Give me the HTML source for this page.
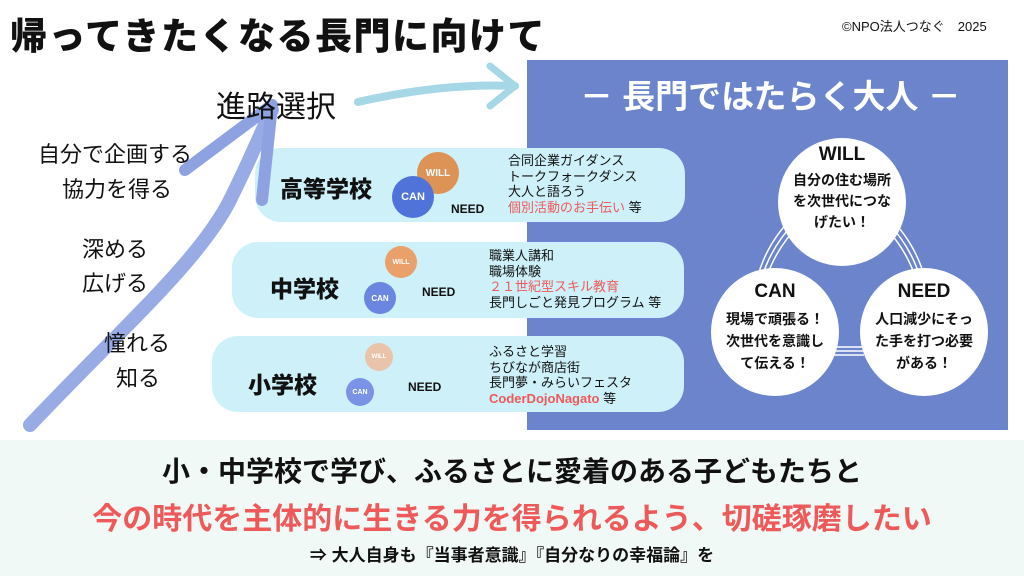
<!DOCTYPE html>
<html><head><meta charset="utf-8"><style>
*{margin:0;padding:0;box-sizing:border-box}
body{width:1024px;height:576px;overflow:hidden;background:#fff;position:relative;font-family:"Liberation Sans","Noto Sans CJK JP",sans-serif;color:#111}
.a{position:absolute;white-space:nowrap}
.box{position:absolute;background:#cdf0f9;border-radius:26px}
.c{position:absolute;border-radius:50%;color:#fff;font-weight:bold;display:flex;align-items:center;justify-content:center}
.red{color:#ee5a5a}
.big{position:absolute;width:128px;height:128px;border-radius:50%;background:#fff;text-align:center;font-weight:bold;color:#111}
</style></head><body>
<div class="a" style="left:10px;top:6px;font-size:37px;font-weight:900;letter-spacing:1.5px">帰ってきたくなる長門に向けて</div>
<div class="a" style="left:842px;top:16px;font-size:13px">©NPO法人つなぐ　2025</div>

<div style="position:absolute;left:527px;top:60px;width:481px;height:370px;background:#6b84cc"></div>
<div class="a" style="left:580px;top:70px;font-size:33px;font-weight:bold;color:#fff">－ 長門ではたらく大人 －</div>

<svg style="position:absolute;left:0;top:0" width="1024" height="576">
<g fill="none" stroke="#fff" stroke-width="1.5">
<path d="M792 218 Q768 242 758 275"/><path d="M796 221 Q772 245 762 277"/><path d="M800 224 Q776 248 766 279"/>
<path d="M890 218 Q914 242 924 275"/><path d="M886 221 Q910 245 920 277"/><path d="M882 224 Q906 248 916 279"/>
<path d="M834 347 L864 347"/><path d="M834 351 L864 351"/><path d="M834 355 L864 355"/>
</g>
</svg>
<div class="box" style="left:255px;top:148px;width:430px;height:74px"></div>
<div class="box" style="left:232px;top:242px;width:452px;height:76px"></div>
<div class="box" style="left:212px;top:336px;width:472px;height:76px"></div>

<svg style="position:absolute;left:0;top:0" width="1024" height="576">
<path d="M30 425 C120 330 200 260 230 200 C250 160 262 130 272 110" stroke="#8ea2e2" stroke-width="14" fill="none" stroke-linecap="round" opacity=".9"/>
<path d="M272 105 L262 200 M272 105 L185 170" stroke="#8ea2e2" stroke-width="12" fill="none" stroke-linecap="round"/>
<path d="M358 102 C420 88 470 84 515 86" stroke="#a6d7e6" stroke-width="8" fill="none" stroke-linecap="round"/>
<path d="M490 66 L515 86 L490 106" stroke="#a6d7e6" stroke-width="7" fill="none" stroke-linecap="round" stroke-linejoin="round"/>
</svg>

<div class="a" style="left:216px;top:82px;font-size:30px">進路選択</div>
<div class="a" style="left:38px;top:137px;font-size:22px">自分で企画する</div>
<div class="a" style="left:62px;top:172px;font-size:22px">協力を得る</div>
<div class="a" style="left:82px;top:232px;font-size:22px">深める</div>
<div class="a" style="left:82px;top:266px;font-size:22px">広げる</div>
<div class="a" style="left:104px;top:326px;font-size:22px">憧れる</div>
<div class="a" style="left:116px;top:361px;font-size:22px">知る</div>

<div class="a" style="left:280px;top:170px;font-size:23px;font-weight:900">高等学校</div>
<div class="c" style="left:417px;top:152px;width:42px;height:42px;background:#e08a45;opacity:.9;font-size:10px">WILL</div>
<div class="c" style="left:392px;top:176px;width:42px;height:42px;background:#4f73d8;font-size:11px">CAN</div>
<div class="a" style="left:451px;top:202px;font-size:12px;font-weight:bold">NEED</div>
<div class="a" style="left:508px;top:153px;font-size:13px;line-height:15.5px">合同企業ガイダンス<br>トークフォークダンス<br>大人と語ろう<br><span class="red">個別活動のお手伝い</span> 等</div>

<div class="a" style="left:270px;top:270px;font-size:23px;font-weight:900">中学校</div>
<div class="c" style="left:385px;top:246px;width:32px;height:32px;background:#e9a06a;font-size:7px">WILL</div>
<div class="c" style="left:364px;top:282px;width:32px;height:32px;background:#6a86e0;font-size:8px">CAN</div>
<div class="a" style="left:422px;top:285px;font-size:12px;font-weight:bold">NEED</div>
<div class="a" style="left:489px;top:248px;font-size:13px;line-height:15.5px">職業人講和<br>職場体験<br><span class="red">２１世紀型スキル教育</span><br>長門しごと発見プログラム 等</div>

<div class="a" style="left:248px;top:366px;font-size:23px;font-weight:900">小学校</div>
<div class="c" style="left:365px;top:343px;width:28px;height:28px;background:#e9c3aa;font-size:6px">WILL</div>
<div class="c" style="left:346px;top:378px;width:28px;height:28px;background:#7b93e6;font-size:7px">CAN</div>
<div class="a" style="left:408px;top:380px;font-size:12px;font-weight:bold">NEED</div>
<div class="a" style="left:489px;top:344px;font-size:13px;line-height:15.5px">ふるさと学習<br>ちびなが商店街<br>長門夢・みらいフェスタ<br><span class="red" style="font-weight:bold">CoderDojoNagato</span> 等</div>

<div class="big" style="left:778px;top:138px"><div style="font-size:19px;margin-top:6px">WILL</div><div style="font-size:14px;line-height:21px;margin-top:4px">自分の住む場所<br>を次世代につな<br>げたい！</div></div>
<div class="big" style="left:711px;top:268px"><div style="font-size:19px;margin-top:13px">CAN</div><div style="font-size:14px;line-height:22px;margin-top:5px">現場で頑張る！<br>次世代を意識し<br>て伝える！</div></div>
<div class="big" style="left:860px;top:268px"><div style="font-size:19px;margin-top:13px">NEED</div><div style="font-size:14px;line-height:22px;margin-top:5px">人口減少にそっ<br>た手を打つ必要<br>がある！</div></div>

<div style="position:absolute;left:0;top:440px;width:1024px;height:136px;background:#f1f9f7"></div>
<div class="a" style="left:0;width:1024px;text-align:center;top:450px;font-size:28px;font-weight:bold">小・中学校で学び、ふるさとに愛着のある子どもたちと</div>
<div class="a red" style="left:0;width:1024px;text-align:center;top:494px;font-size:30px;font-weight:bold">今の時代を主体的に生きる力を得られるよう、切磋琢磨したい</div>
<div class="a" style="left:0;width:1024px;text-align:center;top:541px;font-size:17px;font-weight:bold">⇒ 大人自身も『当事者意識』『自分なりの幸福論』を</div>
</body></html>
